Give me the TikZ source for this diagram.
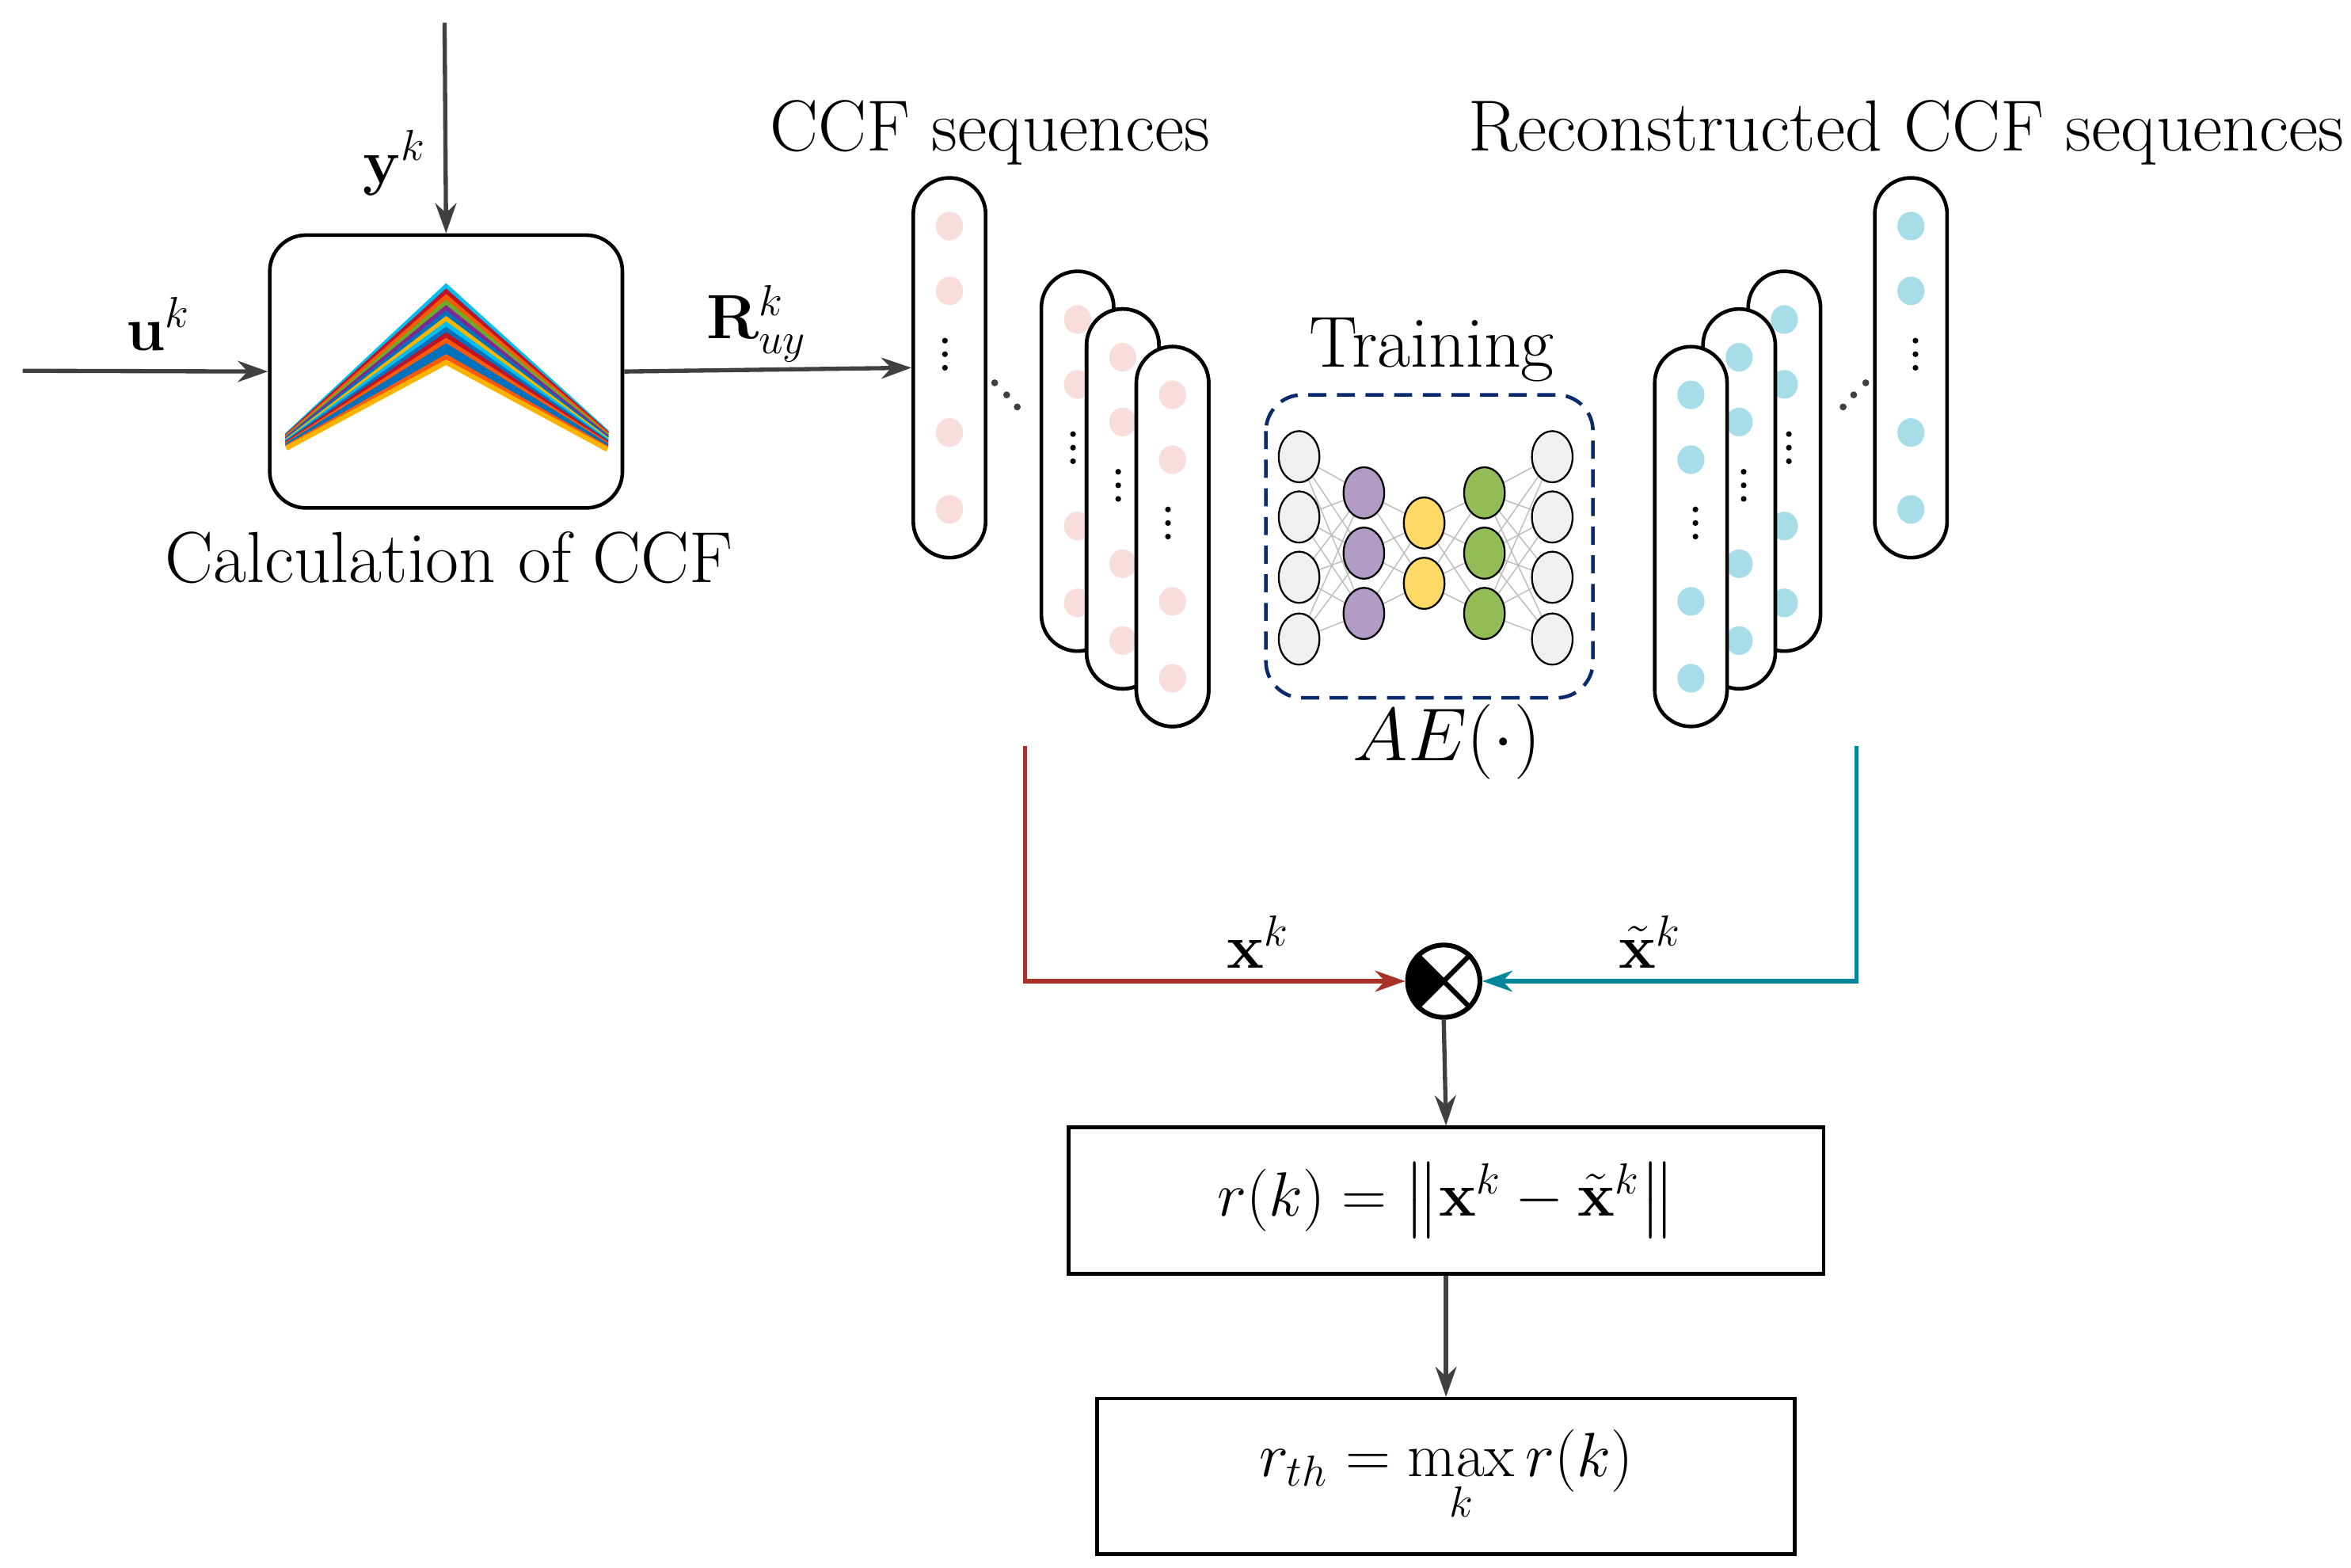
\documentclass[tikz,border=0pt]{standalone}
\usepackage{amsmath}
\usetikzlibrary{arrows.meta,shapes.geometric,calc}
\definecolor{ag}{RGB}{64,64,64}
\definecolor{redl}{RGB}{168,50,40}
\definecolor{teal2}{RGB}{0,134,154}
\definecolor{navy}{RGB}{10,42,110}
\definecolor{pinkd}{RGB}{249,220,220}
\definecolor{cyand}{RGB}{166,221,232}
\definecolor{pur}{RGB}{178,156,198}
\definecolor{yel}{RGB}{255,217,102}
\definecolor{grn}{RGB}{146,188,86}
\definecolor{lgr}{RGB}{240,240,240}
\definecolor{c1}{RGB}{0,190,240}\definecolor{c2}{RGB}{190,20,40}\definecolor{c3}{RGB}{250,90,10}
\definecolor{c4}{RGB}{110,170,40}\definecolor{c5}{RGB}{130,40,150}\definecolor{c6}{RGB}{0,114,189}
\definecolor{c7}{RGB}{250,180,0}
\begin{document}
\begin{tikzpicture}[x=0.5pt,y=-0.5pt,font=\fontsize{20}{24}\selectfont,
  txt/.style={font=\fontsize{24}{28}\selectfont},
  arr/.style={draw=ag,line width=1.4pt,-{Stealth[length=10pt,width=7pt]}},
  col/.style={draw=black,line width=1.2pt,fill=white,rounded corners=12pt,minimum width=24pt,minimum height=126pt,inner sep=0pt},
  box/.style={draw=black,line width=1.2pt,inner sep=0pt},
  ae/.style={draw=black,line width=0.6pt,ellipse,minimum width=13.5pt,minimum height=17pt,inner sep=0pt},
  aed/.style={draw=black!25,line width=0.4pt}]
\useasboundingbox (0,0) rectangle (1560,1040);
% CCF box
\node[box,rounded corners=12pt,minimum width=117pt,minimum height=90.5pt] (ccf) at (296,246.5) {};
\foreach \i/\c in {0/c1,1/c2,2/c3,3/c4,4/c5,5/c6,6/c7,7/c1,8/c6,9/c2,10/c3,11/c6,12/c6,13/c3,14/c7}
  \draw[\c,line width=1.6pt] (190,{289+\i*0.6}) -- (296,{190+\i*3.6}) -- (403,{287+\i*0.8});
\node[txt] (ccflab) at (298,370) {Calculation of CCF};
\coordinate (uin) at (15,246);
\coordinate (yin) at (295,15);
\draw[arr] (uin) -- (ccf.west);
\draw[arr] (yin) -- (ccf.north);
\node at (105,215) {$\mathbf{u}^k$};
\node at (262,108) {$\mathbf{y}^k$};
\node at (502,215) {$\mathbf{R}_{uy}^{k}$};
% left columns
\node[col] (L1) at (630,244) {};
\draw[arr] (ccf.east) -- (L1.west);
\node[txt] at (657,88) {CCF sequences};
\node[txt] at (1265,88) {Reconstructed CCF sequences};
\foreach \n/\x/\t in {L2/715/180,L3/745/205,L4/778/230}
  \node[col] (\n) at (\x,\t+126) {};
\foreach \x/\t in {630/118,715/180,745/205,778/230}{
  \fill[pinkd] (\x,\t+32) ellipse (9 and 9.5);
  \fill[pinkd] (\x,\t+75) ellipse (9 and 9.5);
  \foreach \d in {-9,0,9} \fill (\x-3,\t+117+\d) circle (1.9);
  \fill[pinkd] (\x,\t+169) ellipse (9 and 9.5);
  \fill[pinkd] (\x,\t+220) ellipse (9 and 9.5);}
\foreach \n/\x/\t in {L3/745/205,L4/778/230}{
  \node[col] at (\x,\t+126) {};
  \fill[pinkd] (\x,\t+32) ellipse (9 and 9.5);
  \fill[pinkd] (\x,\t+75) ellipse (9 and 9.5);
  \foreach \d in {-9,0,9} \fill (\x-3,\t+117+\d) circle (1.9);
  \fill[pinkd] (\x,\t+169) ellipse (9 and 9.5);
  \fill[pinkd] (\x,\t+220) ellipse (9 and 9.5);}
\foreach \x/\y in {660/254,668/262,675/270} \fill[ag] (\x,\y) circle (2.3);
% right columns
\foreach \n/\x/\t in {R1/1268/118,R2/1184/180,R3/1154/205,R4/1122/230}{
  \node[col] (\n) at (\x,\t+126) {};
  \fill[cyand] (\x,\t+32) ellipse (9 and 9.5);
  \fill[cyand] (\x,\t+75) ellipse (9 and 9.5);
  \foreach \d in {-9,0,9} \fill (\x+3,\t+117+\d) circle (1.9);
  \fill[cyand] (\x,\t+169) ellipse (9 and 9.5);
  \fill[cyand] (\x,\t+220) ellipse (9 and 9.5);}
\foreach \x/\y in {1223/270,1230/262,1238/254} \fill[ag] (\x,\y) circle (2.3);
% autoencoder
\node[txt] (train) at (950,232) {Training};
\draw[navy,line width=1.2pt,dash pattern=on 6pt off 3.5pt,rounded corners=12pt] (840,262) rectangle (1057,463);
\node[txt] (aelab) at (960,492) {$AE(\cdot)$};
\foreach \i/\y in {1/303,2/343,3/383,4/424}{
  \coordinate (a\i) at (862,\y); \coordinate (e\i) at (1030,\y);}
\foreach \i/\y in {1/327,2/367,3/407}{
  \coordinate (b\i) at (905,\y); \coordinate (d\i) at (985,\y);}
\foreach \i/\y in {1/347,2/387} \coordinate (c\i) at (945,\y);
\foreach \i in {1,...,4} \foreach \j in {1,2,3} {\draw[aed] (a\i) -- (b\j); \draw[aed] (e\i) -- (d\j);}
\foreach \i in {1,2,3} \foreach \j in {1,2} {\draw[aed] (b\i) -- (c\j); \draw[aed] (d\i) -- (c\j);}
\foreach \i in {1,...,4} {\node[ae,fill=lgr] at (a\i) {}; \node[ae,fill=lgr] at (e\i) {};}
\foreach \i in {1,2,3} {\node[ae,fill=pur] at (b\i) {}; \node[ae,fill=grn] at (d\i) {};}
\foreach \i in {1,2} \node[ae,fill=yel] at (c\i) {};
% multiply
\node[circle,draw=black,line width=1.6pt,minimum size=24pt,inner sep=0pt] (mul) at (958,651) {};
\fill (958,651) -- ++(135:23) arc (135:225:23) -- cycle;
\draw[line width=1.6pt] (mul.north west) -- (mul.south east) (mul.north east) -- (mul.south west);
\coordinate (rs) at (680,495); \coordinate (ts) at (1232,495);
\draw[redl,line width=1.4pt,-{Stealth[length=10pt,width=7pt]}] (rs) |- (mul.west);
\draw[teal2,line width=1.4pt,-{Stealth[length=10pt,width=7pt]}] (ts) |- (mul.east);
\node at (835,625) {$\mathbf{x}^k$};
\node at (1095,625) {$\tilde{\mathbf{x}}^k$};
% boxes
\node[box,minimum width=250.5pt,minimum height=48.5pt] (rk) at (959.5,796.5) {$r(k)=\left\|\mathbf{x}^k-\tilde{\mathbf{x}}^k\right\|$};
\node[box,minimum width=231.5pt,minimum height=51.5pt] (rth) at (959.5,979.5) {$r_{th}=\max\limits_{k} r(k)$};
\draw[arr] (mul.south) -- (rk.north);
\draw[arr] (rk.south) -- (rth.north);
\end{tikzpicture}
\end{document}
